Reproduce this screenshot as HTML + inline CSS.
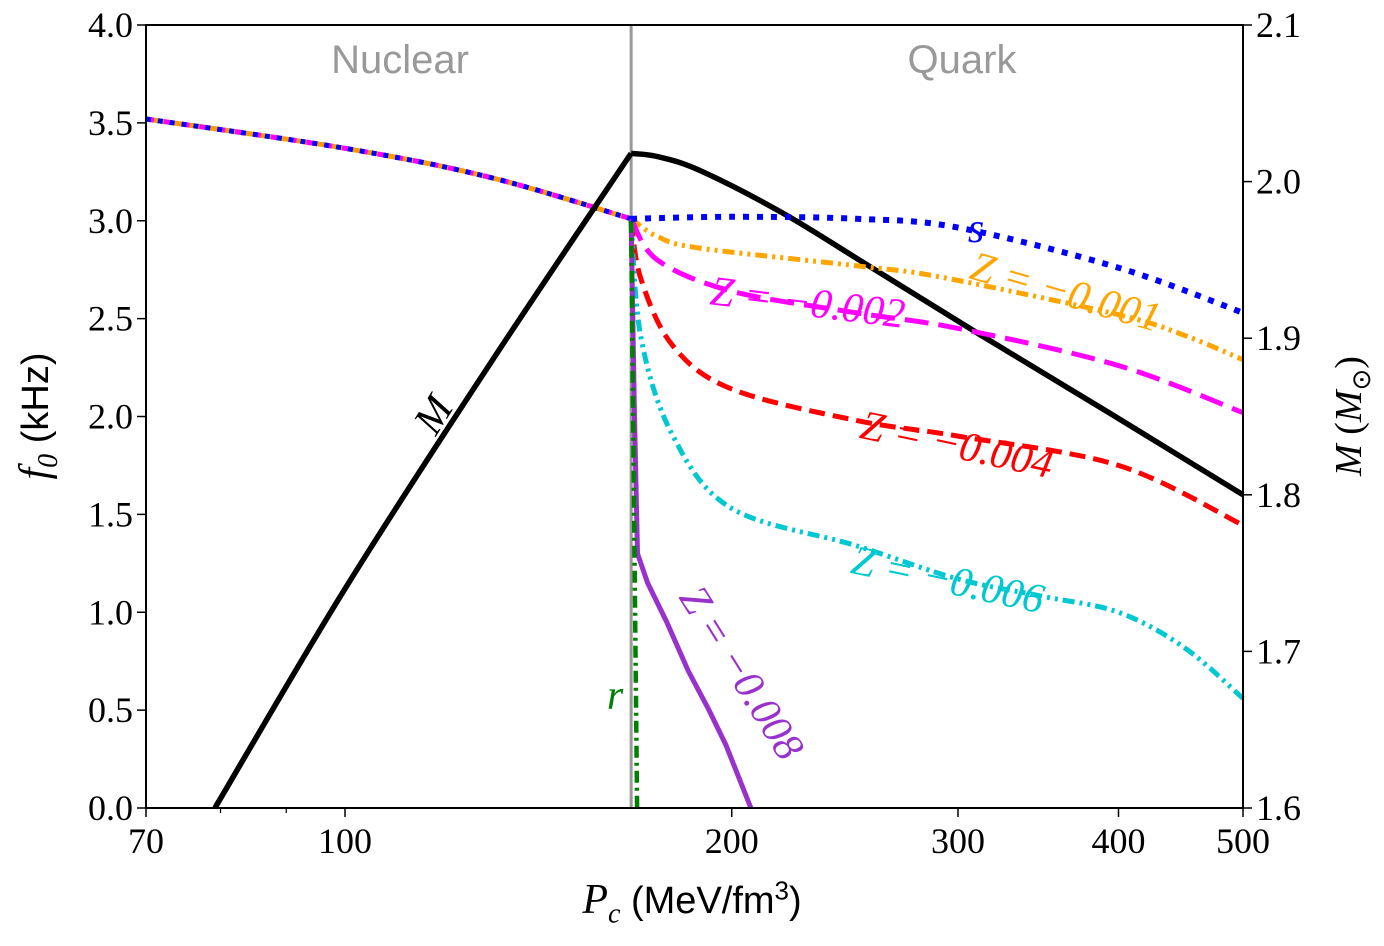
<!DOCTYPE html>
<html><head><meta charset="utf-8"><style>
html,body{margin:0;padding:0;background:#fff}
svg text{font-family:"Liberation Serif",serif}
</style></head><body>
<svg id="chart" width="1384" height="941" xmlns="http://www.w3.org/2000/svg">
<g id="plot"></g>
</svg>
<script>
const xTicks=[70,100,200,300,400,500];
const xMinor=[80,90];
const yTicks=[0,0.5,1,1.5,2,2.5,3,3.5,4];
const y2Ticks=[1.6,1.7,1.8,1.9,2.0,2.1];
const nucP=[70,100,130,167];
const nucF=[3.52,3.37,3.22,3.01];
const massNP=[79.2,100,130,167];
const massNM=[1.6,1.74,1.885,2.018];
const massQP=[167,175,189,219,257,311,394,500];
const massQM=[2.018,2.016,2.007,1.98,1.945,1.903,1.852,1.8];
const sP=[167,200,250,300,400,500];
const sF=[3.01,3.02,3.01,2.965,2.76,2.53];
const z1P=[167,175,189,254,292,400,452,500];
const z1F=[3.01,2.92,2.86,2.765,2.71,2.52,2.41,2.29];
const z2P=[167,175,200,250,300,400,500];
const z2F=[3.01,2.8,2.64,2.53,2.45,2.26,2.02];
const z4P=[167,170,180,200,250,300,400,500];
const z4F=[3.0,2.7,2.36,2.14,1.98,1.9,1.75,1.445];
const z6P=[167,170,180,200,250,300,350,400,450,500];
const z6F=[3.0,2.4,1.9,1.53,1.34,1.17,1.08,1.0,0.82,0.56];
const z8P=[167,168,168.9,172,178,185,192,198,207];
const z8F=[3.0,2.0,1.3,1.15,0.95,0.7,0.5,0.32,0];
const rP=[167,167.6,168.8];
const rF=[3.0,2.0,0];

const L=146,R=1243,T=25,B=808;
const X=p=>L+(R-L)*Math.log(p/70)/Math.log(500/70);
const Y=f=>B-(B-T)*f/4;
const Y2=m=>B-(B-T)*(m-1.6)/0.5;
const g=document.getElementById('plot');
const NS='http://www.w3.org/2000/svg';
function el(t,a,txt){const e=document.createElementNS(NS,t);for(const k in a)e.setAttribute(k,a[k]);if(txt!==undefined)e.textContent=txt;g.appendChild(e);return e;}
function path(P,V,yf,smooth){
  const pts=P.map((p,i)=>[X(p),yf(V[i])]);
  let d='M'+pts[0][0].toFixed(1)+','+pts[0][1].toFixed(1);
  for(let i=0;i<pts.length-1;i++){
    const p0=pts[Math.max(i-1,0)],p1=pts[i],p2=pts[i+1],p3=pts[Math.min(i+2,pts.length-1)];
    if(!smooth){d+='L'+p2[0].toFixed(1)+','+p2[1].toFixed(1);continue;}
    const c1=[p1[0]+(p2[0]-p0[0])/6,p1[1]+(p2[1]-p0[1])/6];
    const c2=[p2[0]-(p3[0]-p1[0])/6,p2[1]-(p3[1]-p1[1])/6];
    d+='C'+c1[0].toFixed(1)+','+c1[1].toFixed(1)+' '+c2[0].toFixed(1)+','+c2[1].toFixed(1)+' '+p2[0].toFixed(1)+','+p2[1].toFixed(1);
  }
  return d;}
function line(P,V,yf,color,w,dash,name,smooth){const e=el('path',{d:path(P,V,yf,smooth!==false),fill:'none',stroke:color,'stroke-width':w,'stroke-dasharray':dash||'none','stroke-linejoin':'round'});

}

const tl=el('line',{x1:X(167),x2:X(167),y1:T,y2:B,stroke:'#999','stroke-width':3});



line(nucP,nucF,Y,'#ff9900',5,'',"nuclear-branch-orange");
line(nucP,nucF,Y,'magenta',5,'8 10',"nuclear-branch-magenta");
line(nucP,nucF,Y,'blue',5,'5 7',"nuclear-branch-blue");
line(massNP,massNM,Y2,'#000',5.5,'',"mass-curve-nuclear");
line(massQP,massQM,Y2,'#000',5.5,'',"mass-curve-quark");
line(z1P,z1F,Y,'orange',5,'12 5 3 5 3 5',"z-0.001-curve");
line(z2P,z2F,Y,'magenta',5,'24 10',"z-0.002-curve");
line(z4P,z4F,Y,'red',5,'16 8',"z-0.004-curve");
line(z6P,z6F,Y,'#00c8d0',5,'12 5 3 5 3 5',"z-0.006-curve");
line(z8P,z8F,Y,'#9932cc',5,'',"z-0.008-curve",false);
line(rP,rF,Y,'green',4.5,'12 5 3 5',"r-curve",false);
line(sP,sF,Y,'blue',6,'6 8',"s-curve");

const fr=el('rect',{x:L,y:T,width:R-L,height:B-T,fill:'none',stroke:'#000','stroke-width':2});



xTicks.forEach(v=>{const x=X(v);
const tk=el('line',{x1:x,x2:x,y1:B,y2:B+9,stroke:'#000','stroke-width':1.5});


const t=el('text',{x:x,y:B+45,'font-size':36,'text-anchor':'middle'},String(v));

});
xMinor.forEach(v=>{const x=X(v);
const tk=el('line',{x1:x,x2:x,y1:B,y2:B+5,stroke:'#000','stroke-width':1.2});

});
yTicks.forEach(v=>{const y=Y(v);
const tk=el('line',{x1:L-9,x2:L,y1:y,y2:y,stroke:'#000','stroke-width':1.5});


const t=el('text',{x:L-13,y:y+12,'font-size':36,'text-anchor':'end'},v.toFixed(1));

});
y2Ticks.forEach(v=>{const y=Y2(v);
const tk=el('line',{x1:R,x2:R+9,y1:y,y2:y,stroke:'#000','stroke-width':1.5});


const t=el('text',{x:R+13,y:y+12,'font-size':36,'text-anchor':'start'},v.toFixed(1));

});

function lab(txt,x,y,rot,color,name,size){const t=el('text',{x:x,y:y,'font-size':size||42,fill:color,'font-style':'italic','text-anchor':'middle',transform:`rotate(${rot} ${x} ${y})`},txt);

}
lab('Z = −0.001',1062,305,16,'orange','label-z-0.001');
lab('Z = −0.002',806,316,7,'magenta','label-z-0.002');
lab('Z = −0.004',954,458,12,'red','label-z-0.004');
lab('Z = −0.006',945,593,12,'#00c8d0','label-z-0.006');
lab('Z = −0.008',730,680,58,'#9932cc','label-z-0.008');
lab('M',445,422,-58,'#000','label-m');
lab('s',976,242,0,'blue','label-s');
lab('r',615,709,0,'green','label-r');

const n=el('text',{x:400,y:73,'font-size':40,fill:'#999','text-anchor':'middle'},'Nuclear');
n.setAttribute('style','font-family:"Liberation Sans",sans-serif');


const q=el('text',{x:962,y:73,'font-size':40,fill:'#999','text-anchor':'middle'},'Quark');
q.setAttribute('style','font-family:"Liberation Sans",sans-serif');


</script>
<div style="position:absolute;left:0;top:875px;width:1384px;text-align:center;font:38px 'Liberation Sans',sans-serif"><span><i style="font-family:'Liberation Serif',serif;font-size:42px">P<sub style="font-size:28px">c</sub></i> (MeV/fm<sup style="font-size:26px">3</sup>)</span></div>
<div style="position:absolute;left:38px;top:416px;transform:translate(-50%,-50%) rotate(-90deg);white-space:nowrap;font:38px 'Liberation Sans',sans-serif"><i style="font-family:'Liberation Serif',serif;font-size:42px">f<sub style="font-size:28px">0</sub></i> (kHz)</div>
<div style="position:absolute;left:1352px;top:416px;transform:translate(-50%,-50%) rotate(-90deg);white-space:nowrap;font:38px 'Liberation Serif',serif"><i>M</i> (<i>M</i><sub style="font-size:26px">⊙</sub>)</div>
</body></html>
